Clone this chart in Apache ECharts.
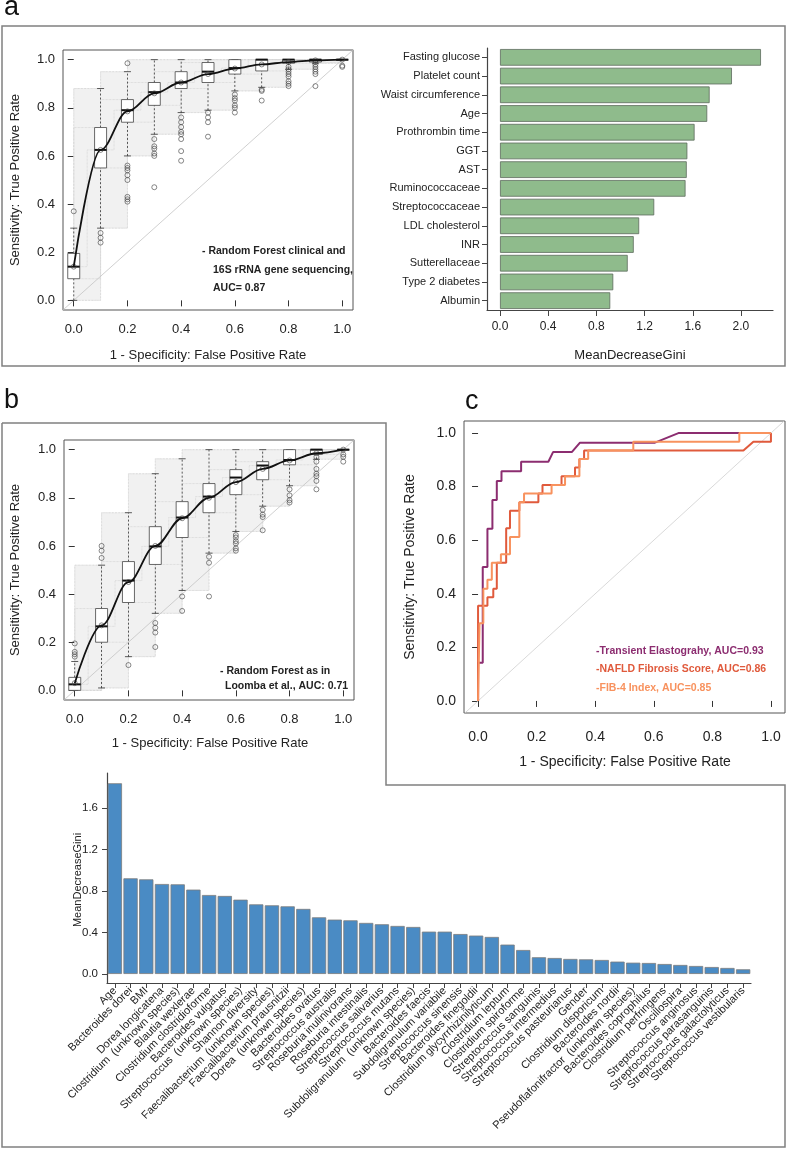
<!DOCTYPE html>
<html><head><meta charset="utf-8">
<script src="https://cdn.jsdelivr.net/npm/echarts@6.0.0/dist/echarts.min.js"></script>
<style>html,body{margin:0;padding:0;background:#fff}#c{width:788px;height:1149px}</style>
</head><body><div id="c"></div>
<script>
// ---------------- DATA ----------------
const rocX = [0, 0.1, 0.2, 0.3, 0.4, 0.5, 0.6, 0.7, 0.8, 0.9, 1.0];
const rocTicks = [0, 0.2, 0.4, 0.6, 0.8, 1.0];

// Panel a: ROC (clinical + 16S)
const aLow  = [0.00, 0.30, 0.60, 0.69, 0.78, 0.79, 0.87, 0.885, 0.96, 0.985, 1.00];
const aQ1   = [0.09, 0.55, 0.74, 0.81, 0.88, 0.905, 0.94, 0.953, 0.985, 0.99, 1.00];
const aMed  = [0.14, 0.625, 0.79, 0.865, 0.905, 0.95, 0.965, 1.00, 1.00, 1.00, 1.00];
const aQ3   = [0.195, 0.718, 0.834, 0.905, 0.95, 0.988, 1.00, 1.00, 1.00, 1.00, 1.00];
const aHigh = [0.30, 0.88, 0.95, 1.00, 1.00, 1.00, 1.00, 1.00, 1.00, 1.00, 1.00];
const aCurve = [0.14, 0.625, 0.785, 0.86, 0.905, 0.94, 0.963, 0.98, 0.99, 0.997, 1.00];
const aOutliers = [[0,0.37],[0.1,0.28],[0.1,0.26],[0.1,0.24],[0.2,0.985],[0.2,0.56],[0.2,0.55],[0.2,0.54],[0.2,0.52],[0.2,0.50],[0.2,0.43],[0.2,0.42],[0.2,0.41],
  [0.3,0.67],[0.3,0.64],[0.3,0.63],[0.3,0.61],[0.3,0.60],[0.3,0.47],[0.4,0.76],[0.4,0.74],[0.4,0.72],[0.4,0.70],[0.4,0.69],[0.4,0.67],[0.4,0.62],[0.4,0.58],
  [0.5,0.78],[0.5,0.76],[0.5,0.74],[0.5,0.68],[0.6,0.855],[0.6,0.84],[0.6,0.83],[0.6,0.81],[0.6,0.80],[0.6,0.78],[0.7,0.875],[0.7,0.87],[0.7,0.83],
  [0.8,0.97],[0.8,0.96],[0.8,0.95],[0.8,0.94],[0.8,0.93],[0.8,0.91],[0.8,0.90],[0.8,0.89],[0.9,0.99],[0.9,0.98],[0.9,0.97],[0.9,0.96],[0.9,0.95],[0.9,0.94],[0.9,0.89],[1.0,0.975],[1.0,0.97]];

// Panel a: variable importance
const clinNames = ['Fasting glucose','Platelet count','Waist circumference','Age','Prothrombin time','GGT','AST','Ruminococcaceae','Streptococcaceae','LDL cholesterol','INR','Sutterellaceae','Type 2 diabetes','Albumin'];
const clinGini = [2.166, 1.925, 1.74, 1.72, 1.615, 1.555, 1.55, 1.54, 1.28, 1.155, 1.11, 1.06, 0.94, 0.915];
const clinTicks = [0, 0.4, 0.8, 1.2, 1.6, 2.0];

// Panel b: ROC (Loomba et al.)
const bLow  = [0.00, 0.01, 0.14, 0.32, 0.415, 0.57, 0.66, 0.765, 0.85, 0.96, 1.00];
const bQ1   = [0.00, 0.20, 0.365, 0.523, 0.635, 0.738, 0.813, 0.875, 0.937, 0.98, 1.00];
const bMed  = [0.025, 0.266, 0.456, 0.598, 0.718, 0.805, 0.884, 0.934, 0.957, 1.00, 1.00];
const bQ3   = [0.054, 0.34, 0.535, 0.68, 0.784, 0.859, 0.917, 0.95, 1.00, 1.00, 1.00];
const bHigh = [0.12, 0.52, 0.738, 0.90, 0.962, 1.00, 1.00, 1.00, 1.00, 1.00, 1.00];
const bCurve = [0.03, 0.27, 0.45, 0.60, 0.715, 0.80, 0.865, 0.92, 0.955, 0.985, 1.00];
const bOutliers = [[0,0.14],[0,0.15],[0,0.16],[0,0.195],[0.1,0.55],[0.1,0.58],[0.1,0.60],[0.2,0.105],[0.3,0.28],[0.3,0.26],[0.3,0.24],[0.3,0.18],
  [0.4,0.39],[0.4,0.33],[0.5,0.555],[0.5,0.53],[0.5,0.39],[0.6,0.645],[0.6,0.635],[0.6,0.62],[0.6,0.61],[0.6,0.59],[0.6,0.58],
  [0.7,0.75],[0.7,0.73],[0.7,0.72],[0.7,0.665],[0.8,0.835],[0.8,0.81],[0.8,0.79],[0.8,0.78],
  [0.9,0.97],[0.9,0.95],[0.9,0.92],[0.9,0.90],[0.9,0.89],[0.9,0.87],[0.9,0.835],[1.0,0.98],[1.0,0.97],[1.0,0.95]];

// Panel c: ROC curves
const teFpr = [0, 0, 0.016, 0.016, 0.032, 0.032, 0.049, 0.049, 0.064, 0.064, 0.08, 0.08, 0.147, 0.147, 0.24, 0.256, 0.32, 0.348, 0.604, 0.684, 1.0];
const teTpr = [0, 0.143, 0.143, 0.5, 0.5, 0.643, 0.643, 0.75, 0.75, 0.821, 0.821, 0.857, 0.857, 0.893, 0.893, 0.929, 0.929, 0.964, 0.964, 1.0, 1.0];
const nfsFpr = [0, 0, 0.032, 0.032, 0.052, 0.052, 0.064, 0.064, 0.096, 0.096, 0.109, 0.109, 0.141, 0.141, 0.206, 0.206, 0.22, 0.22, 0.285, 0.285, 0.331, 0.331, 0.346, 0.346, 0.362, 0.362, 0.906, 0.94, 1.0, 1.0];
const nfsTpr = [0, 0.355, 0.355, 0.387, 0.387, 0.419, 0.419, 0.516, 0.516, 0.645, 0.645, 0.71, 0.71, 0.742, 0.742, 0.774, 0.774, 0.806, 0.806, 0.839, 0.839, 0.871, 0.871, 0.903, 0.903, 0.935, 0.935, 0.968, 0.968, 1.0];
const fibFpr = [0, 0.005, 0.005, 0.018, 0.018, 0.032, 0.032, 0.047, 0.047, 0.078, 0.078, 0.109, 0.109, 0.141, 0.141, 0.157, 0.157, 0.251, 0.251, 0.297, 0.297, 0.346, 0.346, 0.376, 0.376, 0.53, 0.53, 0.892, 0.892, 1.0];
const fibTpr = [0, 0, 0.29, 0.29, 0.419, 0.419, 0.452, 0.452, 0.516, 0.516, 0.548, 0.548, 0.612, 0.612, 0.742, 0.742, 0.774, 0.774, 0.806, 0.806, 0.839, 0.839, 0.903, 0.903, 0.935, 0.935, 0.968, 0.968, 1.0, 1.0];

// Bottom: variable importance (Loomba model)
const taxaNames = ['Age','Bacteroides dorei','BMI','Dorea longicatena','Clostridium  (unknown species)','Blautia wexlerae','Clostridium clostridioforme','Bacteroides vulgatus','Streptococcus  (unknown species)','Shannon diversity','Faecalibacterium  (unknown species)','Faecalibacterium prausnitzii','Dorea  (unknown species)','Bacteroides ovatus','Streptococcus australis','Roseburia inulinivorans','Roseburia intestinalis','Streptococcus salivarius','Streptococcus mutans','Subdoligranulum  (unknown species)','Bacteroides faecis','Subdoligranulum variabile','Streptococcus sinensis','Bacteroides finegoldii','Clostridium glycyrrhizinilyticum','Clostridium leptum','Clostridium spiroforme','Streptococcus sanguinis','Streptococcus intermedius','Streptococcus pasteurianus','Gender','Clostridium disporicum','Bacteroides nordii','Pseudoflafonifractor  (unknown species)','Bacteroides coprophilus','Clostridium perfringens','Oscillospira','Streptococcus anginosus','Streptococcus parasanguinis','Streptococcus galactolyticus','Streptococcus vestibularis'];
const taxaGini = [1.838, 0.922, 0.912, 0.867, 0.864, 0.813, 0.761, 0.752, 0.716, 0.671, 0.662, 0.652, 0.627, 0.546, 0.524, 0.517, 0.492, 0.479, 0.463, 0.453, 0.408, 0.408, 0.385, 0.37, 0.357, 0.283, 0.231, 0.161, 0.154, 0.145, 0.141, 0.135, 0.119, 0.109, 0.106, 0.096, 0.087, 0.077, 0.067, 0.058, 0.045];
const taxaTicks = [0, 0.4, 0.8, 1.2, 1.6];

// ---------------- STYLE / HELPERS ----------------
const FONT = "'Liberation Sans', Arial, sans-serif";
const NARROW = "'Liberation Sans Narrow', 'Arial Narrow', 'Liberation Sans', sans-serif";
const fmt1 = v => v.toFixed(1);

function rocAxis(g, min, max, fs, margin) {
  return {gridIndex: g, type: 'value', min, max,
    axisLine: {show: false}, splitLine: {show: false},
    axisTick: {show: true, customValues: rocTicks, length: 6, lineStyle: {color: '#333', width: 1}},
    axisLabel: {customValues: rocTicks, formatter: fmt1, fontSize: fs, color: '#222', fontFamily: FONT, margin}};
}
function stepPoints(lo, hi) {
  const up = [], dn = [];
  for (let i = 0; i < rocX.length; i++) {
    up.push([rocX[i], hi[i]]);
    if (i < rocX.length - 1) up.push([rocX[i], hi[i + 1]]);
    dn.push([rocX[i], lo[i]]);
    if (i < rocX.length - 1) dn.push([rocX[i + 1], lo[i]]);
  }
  return up.concat(dn.reverse());
}
function bandSeries(g, lo, hi) {
  return {type: 'custom', xAxisIndex: g, yAxisIndex: g, z: 1, silent: true, data: [[0, 0]], encode: {x: 0, y: 1},
    renderItem: (p, api) => ({type: 'polygon', shape: {points: stepPoints(lo, hi).map(pt => api.coord(pt))},
      style: {fill: '#f1f1f1', stroke: '#dcdcdc', lineWidth: 0.5, lineDash: [2, 1]}})};
}
function stepLine(g, ys, step) {
  return {type: 'line', xAxisIndex: g, yAxisIndex: g, z: 2, silent: true, step, symbol: 'none',
    data: rocX.map((x, i) => [x, ys[i]]), lineStyle: {color: '#cdcdcd', width: 0.7, type: 'dotted'}};
}
function boxSeries(g, lo, q1, med, q3, hi) {
  return {type: 'custom', xAxisIndex: g, yAxisIndex: g, z: 3, silent: true,
    data: rocX.map((x, i) => [x, lo[i], q1[i], med[i], q3[i], hi[i]]),
    encode: {x: 0, y: [1, 2, 3, 4, 5]},
    renderItem: (p, api) => {
      const x = api.value(0);
      const pl = api.coord([x, api.value(1)]), p1 = api.coord([x, api.value(2)]), pm = api.coord([x, api.value(3)]),
            p3 = api.coord([x, api.value(4)]), ph = api.coord([x, api.value(5)]);
      const hw = 6, cw = 3.5, cx = pl[0];
      const st = {stroke: '#333', lineWidth: 0.8};
      return {type: 'group', children: [
        {type: 'line', shape: {x1: cx, y1: pl[1], x2: cx, y2: p1[1]}, style: Object.assign({lineDash: [2, 2]}, st)},
        {type: 'line', shape: {x1: cx, y1: p3[1], x2: cx, y2: ph[1]}, style: Object.assign({lineDash: [2, 2]}, st)},
        {type: 'line', shape: {x1: cx - cw, y1: pl[1], x2: cx + cw, y2: pl[1]}, style: st},
        {type: 'line', shape: {x1: cx - cw, y1: ph[1], x2: cx + cw, y2: ph[1]}, style: st},
        {type: 'rect', shape: {x: cx - hw, y: p3[1], width: 2 * hw, height: Math.max(p1[1] - p3[1], 0.5)}, style: {fill: '#fff', stroke: '#444', lineWidth: 0.8}},
        {type: 'line', shape: {x1: cx - hw, y1: pm[1], x2: cx + hw, y2: pm[1]}, style: {stroke: '#111', lineWidth: 2}}
      ]};
    }};
}
function outlierSeries(g, pts) {
  return {type: 'scatter', xAxisIndex: g, yAxisIndex: g, z: 4, silent: true, data: pts, symbol: 'circle', symbolSize: 5,
    itemStyle: {color: 'rgba(255,255,255,0)', borderColor: '#444', borderWidth: 0.8}};
}
function curveSeries(g, ys) {
  return [{type: 'line', xAxisIndex: g, yAxisIndex: g, z: 5, silent: true, symbol: 'none', smooth: 0.35, smoothMonotone: 'x',
    data: rocX.map((x, i) => [x, ys[i]]), lineStyle: {color: '#111', width: 1.8}},
    outlierSeries(g, rocX.map((x, i) => [x, ys[i]]))];
}
function diagSeries(g, a, b, color) {
  return {type: 'line', xAxisIndex: g, yAxisIndex: g, z: 2, silent: true, symbol: 'none',
    data: [[a, a], [b, b]], lineStyle: {color, width: 0.8}};
}
function zip(a, b) { return a.map((v, i) => [v, b[i]]); }
function txt(text, x, y, o) {
  return Object.assign({type: 'text', x, y, silent: true, style: Object.assign({text, fontFamily: FONT, fontSize: 13, fill: '#222', align: 'center', verticalAlign: 'middle'}, o || {})}, o && o.rot ? {rotation: o.rot} : {});
}

// ---------------- OPTION ----------------
const option = {
  backgroundColor: '#fff',
  animation: false,
  grid: [
    {left: 63, top: 50, width: 290, height: 260, show: true, borderColor: '#555', borderWidth: 1, backgroundColor: 'transparent'},
    {left: 487, top: 48, width: 286, height: 262},
    {left: 64, top: 440, width: 290, height: 260, show: true, borderColor: '#555', borderWidth: 1, backgroundColor: 'transparent'},
    {left: 464, top: 421, width: 321, height: 292, show: true, borderColor: '#555', borderWidth: 1, backgroundColor: 'transparent'},
    {left: 107, top: 773, width: 644, height: 210}
  ],
  xAxis: [
    rocAxis(0, -0.04, 1.04, 13, 13),
    {gridIndex: 1, type: 'value', min: -0.108, max: 2.266, splitLine: {show: false},
      axisLine: {show: true, onZero: false, lineStyle: {color: '#444', width: 1.2}},
      axisTick: {show: true, customValues: clinTicks, length: 6, lineStyle: {color: '#444'}},
      axisLabel: {customValues: clinTicks, formatter: fmt1, fontSize: 12, color: '#222', fontFamily: FONT, margin: 11}},
    rocAxis(2, -0.04, 1.04, 13, 13),
    {gridIndex: 3, type: 'value', min: -0.048, max: 1.048,
      axisLine: {show: false}, splitLine: {show: false},
      axisTick: {show: true, customValues: rocTicks, length: 6, lineStyle: {color: '#333'}},
      axisLabel: {customValues: rocTicks, formatter: fmt1, fontSize: 14, color: '#222', fontFamily: FONT, margin: 17}},
    {gridIndex: 4, type: 'category', data: taxaNames, boundaryGap: true,
      axisLine: {show: true, onZero: false, lineStyle: {color: '#444', width: 1.2}},
      axisTick: {show: true, alignWithLabel: true, interval: 0, length: 5, lineStyle: {color: '#444'}},
      axisLabel: {rotate: 45, interval: 0, fontSize: 11, color: '#222', fontFamily: FONT, margin: 6}}
  ],
  yAxis: [
    rocAxis(0, -0.04, 1.04, 13, 8),
    {gridIndex: 1, type: 'category', data: clinNames, inverse: true, boundaryGap: true,
      axisLine: {show: true, onZero: false, lineStyle: {color: '#444', width: 1.2}},
      axisTick: {show: true, alignWithLabel: true, length: 5, lineStyle: {color: '#444'}},
      axisLabel: {fontSize: 11, color: '#222', fontFamily: FONT, margin: 7, interval: 0}},
    rocAxis(2, -0.04, 1.04, 13, 8),
    {gridIndex: 3, type: 'value', min: -0.045, max: 1.045,
      axisLine: {show: false}, splitLine: {show: false},
      axisTick: {show: true, customValues: rocTicks, length: 6, lineStyle: {color: '#333'}},
      axisLabel: {customValues: rocTicks, formatter: fmt1, fontSize: 14, color: '#222', fontFamily: FONT, margin: 8}},
    {gridIndex: 4, type: 'value', min: -0.087, max: 1.937, splitLine: {show: false},
      axisLine: {show: true, onZero: false, lineStyle: {color: '#444', width: 1.2}},
      axisTick: {show: true, customValues: taxaTicks, length: 5, lineStyle: {color: '#444'}},
      axisLabel: {customValues: taxaTicks, formatter: fmt1, fontSize: 11.5, color: '#222', fontFamily: FONT, margin: 9}}
  ],
  series: [
    // panel a ROC
    bandSeries(0, aLow, aHigh),
    stepLine(0, aLow, 'end'), stepLine(0, aQ1, 'end'), stepLine(0, aMed, 'middle'), stepLine(0, aQ3, 'start'), stepLine(0, aHigh, 'start'),
    diagSeries(0, -0.05, 1.05, '#c4c4c4'),
    boxSeries(0, aLow, aQ1, aMed, aQ3, aHigh),
    outlierSeries(0, aOutliers),
    ...curveSeries(0, aCurve),
    // panel a bars
    {type: 'bar', xAxisIndex: 1, yAxisIndex: 1, data: clinGini, barCategoryGap: '11%', silent: true,
      itemStyle: {color: '#8fbb8c', borderColor: '#5d6b5d', borderWidth: 0.8}},
    // panel b ROC
    bandSeries(2, bLow, bHigh),
    stepLine(2, bLow, 'end'), stepLine(2, bQ1, 'end'), stepLine(2, bMed, 'middle'), stepLine(2, bQ3, 'start'), stepLine(2, bHigh, 'start'),
    diagSeries(2, -0.05, 1.05, '#c4c4c4'),
    boxSeries(2, bLow, bQ1, bMed, bQ3, bHigh),
    outlierSeries(2, bOutliers),
    ...curveSeries(2, bCurve),
    // panel c ROC
    diagSeries(3, -0.06, 1.06, '#cfcfcf'),
    {type: 'line', xAxisIndex: 3, yAxisIndex: 3, z: 3, silent: true, symbol: 'none', data: zip(teFpr, teTpr), lineStyle: {color: '#8c2d70', width: 2}},
    {type: 'line', xAxisIndex: 3, yAxisIndex: 3, z: 4, silent: true, symbol: 'none', data: zip(nfsFpr, nfsTpr), lineStyle: {color: '#e05a3c', width: 2}},
    {type: 'line', xAxisIndex: 3, yAxisIndex: 3, z: 5, silent: true, symbol: 'none', data: zip(fibFpr, fibTpr), lineStyle: {color: '#f8925e', width: 2}},
    // bottom bars
    {type: 'bar', xAxisIndex: 4, yAxisIndex: 4, data: taxaGini, barCategoryGap: '9%', silent: true,
      itemStyle: {color: '#4a8bc4', borderColor: '#7c7c7c', borderWidth: 0.8}}
  ],
  graphic: [
    {type: 'rect', silent: true, z: 0, shape: {x: 2, y: 26, width: 783, height: 340}, style: {fill: 'none', stroke: '#808080', lineWidth: 1.5}},
    {type: 'polyline', silent: true, z: 0, shape: {points: [[2, 423], [386, 423], [386, 785], [785, 785], [785, 1147], [2, 1147], [2, 423]]}, style: {fill: 'none', stroke: '#808080', lineWidth: 1.5}},
    txt('a', 4, 8, {fontSize: 27, align: 'left', fill: '#111'}),
    txt('b', 4, 401, {fontSize: 27, align: 'left', fill: '#111'}),
    txt('c', 465, 402, {fontSize: 27, align: 'left', fill: '#111'}),
    // panel a titles
    txt('Sensitivity: True Positive Rate', 15, 180, {rot: Math.PI / 2}),
    txt('1 - Specificity: False Positive Rate', 208, 355),
    txt('MeanDecreaseGini', 630, 355),
    txt('- Random Forest clinical and', 202, 251, {align: 'left', fontFamily: NARROW, fontWeight: 'bold', fontSize: 10.5}),
    txt('16S rRNA gene sequencing,', 213, 270, {align: 'left', fontFamily: NARROW, fontWeight: 'bold', fontSize: 10.5}),
    txt('AUC= 0.87', 213, 288, {align: 'left', fontFamily: NARROW, fontWeight: 'bold', fontSize: 10.5}),
    // panel b titles
    txt('Sensitivity: True Positive Rate', 15, 570, {rot: Math.PI / 2}),
    txt('1 - Specificity: False Positive Rate', 210, 743),
    txt('- Random Forest as in', 220, 671, {align: 'left', fontFamily: NARROW, fontWeight: 'bold', fontSize: 10.5}),
    txt('Loomba et al., AUC: 0.71', 225, 686, {align: 'left', fontFamily: NARROW, fontWeight: 'bold', fontSize: 10.5}),
    // panel c titles
    txt('Sensitivity: True Positive Rate', 410, 567, {rot: Math.PI / 2, fontSize: 14}),
    txt('1 - Specificity: False Positive Rate', 625, 762, {fontSize: 14}),
    txt('-Transient Elastograhy, AUC=0.93', 596, 651, {align: 'left', fontWeight: 'bold', fontSize: 10.5, fill: '#8c2d70'}),
    txt('-NAFLD Fibrosis Score, AUC=0.86', 596, 669, {align: 'left', fontWeight: 'bold', fontSize: 10.5, fill: '#e05a3c'}),
    txt('-FIB-4 Index, AUC=0.85', 596, 688, {align: 'left', fontWeight: 'bold', fontSize: 10.5, fill: '#f8925e'}),
    // bottom y title
    txt('MeanDecreaseGini', 78, 880, {rot: Math.PI / 2, fontSize: 11})
  ]
};
const chart = echarts.init(document.getElementById('c'), null, {renderer: 'canvas'});
chart.setOption(option);
</script></body></html>
